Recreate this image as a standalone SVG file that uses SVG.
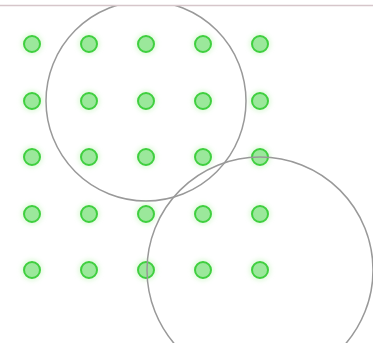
<svg xmlns="http://www.w3.org/2000/svg" width="373" height="343" viewBox="0 0 373 343">
<defs>
<style>
.dot{fill:#9be89b;stroke:#3fcf3f;stroke-width:2}
.glow{fill:#c8f5c0;opacity:0.5}
.ring{fill:none;stroke:#999;stroke-width:1.5}
</style>
<filter id="g" x="-50%" y="-50%" width="200%" height="200%"><feGaussianBlur stdDeviation="2"/></filter>
<clipPath id="c"><rect x="0" y="5" width="373" height="338"/></clipPath>
<g id="dotshape"><circle r="11" class="glow" filter="url(#g)"/><circle r="8" class="dot"/></g>
</defs>
<rect width="373" height="343" fill="#fff"/>
<g id="nodes">
<use href="#dotshape" x="32" y="44"/><use href="#dotshape" x="89" y="44"/><use href="#dotshape" x="146" y="44"/><use href="#dotshape" x="203" y="44"/><use href="#dotshape" x="260" y="44"/>
<use href="#dotshape" x="32" y="101"/><use href="#dotshape" x="89" y="101"/><use href="#dotshape" x="146" y="101"/><use href="#dotshape" x="203" y="101"/><use href="#dotshape" x="260" y="101"/>
<use href="#dotshape" x="32" y="157"/><use href="#dotshape" x="89" y="157"/><use href="#dotshape" x="146" y="157"/><use href="#dotshape" x="203" y="157"/><use href="#dotshape" x="260" y="157"/>
<use href="#dotshape" x="32" y="214"/><use href="#dotshape" x="89" y="214"/><use href="#dotshape" x="146" y="214"/><use href="#dotshape" x="203" y="214"/><use href="#dotshape" x="260" y="214"/>
<use href="#dotshape" x="32" y="270"/><use href="#dotshape" x="89" y="270"/><use href="#dotshape" x="146" y="270"/><use href="#dotshape" x="203" y="270"/><use href="#dotshape" x="260" y="270"/>
</g>
<g id="rings" clip-path="url(#c)">
<circle class="ring" cx="146" cy="101" r="100"/>
<circle class="ring" cx="260" cy="270" r="113"/>
</g>
<line x1="0" y1="5.5" x2="373" y2="5.5" stroke="#d6c6ca" stroke-width="1.5"/>
</svg>
